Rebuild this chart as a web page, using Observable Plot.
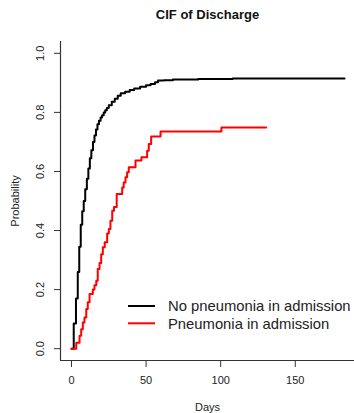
<!DOCTYPE html>
<html>
<head>
<meta charset="utf-8">
<script src="https://cdn.jsdelivr.net/npm/d3@7"></script>
<script src="https://cdn.jsdelivr.net/npm/@observablehq/plot@0.6"></script>
<style>
  html, body { margin: 0; padding: 0; background: white; }
  #chart { position: relative; width: 354px; height: 413px; }
</style>
</head>
<body>
<div id="chart"></div>
<script>
// ---- data ----
const title = "CIF of Discharge";
const xLabel = "Days";
const yLabel = "Probability";
const seriesNames = ["No pneumonia in admission", "Pneumonia in admission"];
const seriesColors = ["#000000", "#ff0000"];

const noPneuDays = [0, 1.5, 3, 4.2, 5.2, 6.2, 7.2, 8.2, 9.2, 10.3, 11.3, 12.3, 13.3, 14.4, 15.4, 16.4, 17.4, 18.4, 19.5, 20.5, 21.6, 22.6, 23.7, 25, 27, 29, 31, 33, 36, 39, 42, 46, 50, 53, 56, 58, 62, 68, 85, 108, 183];
const noPneuProb = [0, 0.085, 0.17, 0.26, 0.345, 0.42, 0.465, 0.5, 0.54, 0.575, 0.61, 0.645, 0.672, 0.7, 0.722, 0.742, 0.76, 0.772, 0.783, 0.79, 0.8, 0.807, 0.815, 0.824, 0.836, 0.846, 0.856, 0.865, 0.87, 0.876, 0.881, 0.887, 0.892, 0.896, 0.902, 0.908, 0.909, 0.911, 0.913, 0.915, 0.915];

const pneuDays = [0, 3.2, 5.4, 6.5, 7.6, 8.7, 9.9, 10.9, 12.1, 14.3, 15.4, 16.6, 17.6, 18.8, 19.9, 21, 22.3, 23.9, 25, 26.1, 27.3, 28.5, 30.3, 34, 35, 36.2, 37.3, 38.4, 42.9, 46.9, 50.7, 51.8, 53.4, 59.7, 100.5, 130.5];
const pneuProb = [0, 0.02, 0.044, 0.066, 0.089, 0.106, 0.134, 0.157, 0.185, 0.2, 0.215, 0.23, 0.27, 0.29, 0.32, 0.343, 0.36, 0.39, 0.405, 0.433, 0.467, 0.48, 0.524, 0.546, 0.563, 0.58, 0.597, 0.614, 0.637, 0.648, 0.67, 0.693, 0.718, 0.735, 0.749, 0.749];

const xTicks = [0, 50, 100, 150];
const yTicks = [0, 0.2, 0.4, 0.6, 0.8, 1.0];

// ---- build table ----
const rows = [
  ...noPneuDays.map((d, i) => ({day: d, prob: noPneuProb[i], group: seriesNames[0]})),
  ...pneuDays.map((d, i) => ({day: d, prob: pneuProb[i], group: seriesNames[1]}))
];

const xDomain = [-7.37, 189.7];
const yDomain = [-0.04, 1.04];
const font = "'Liberation Sans', Arial, Helvetica, sans-serif";
const axisColor = "#333";

const plot = Plot.plot({
  width: 354,
  height: 413,
  marginLeft: 60,
  marginRight: 0,
  marginTop: 41,
  marginBottom: 53,
  x: {domain: xDomain},
  y: {domain: yDomain},
  color: {domain: seriesNames, range: seriesColors},
  style: {fontFamily: font, fontSize: "11px", color: "#222", background: "white"},
  marks: [
    Plot.ruleX([xDomain[0]], {stroke: axisColor, strokeWidth: 1.2}),
    Plot.ruleY([yDomain[0]], {stroke: axisColor, strokeWidth: 1.2}),
    Plot.axisX({ticks: xTicks, tickSize: 7, tickPadding: 9, label: null, stroke: axisColor, fontSize: 11}),
    Plot.axisY({ticks: yTicks, tickSize: 6, tickFormat: () => "", label: null, stroke: axisColor}),
    Plot.text(yTicks, {x: xDomain[0], y: d => d, text: d => d.toFixed(1), rotate: -90, dx: -20,
      textAnchor: "middle", lineAnchor: "middle", fontSize: 11, fill: "#222"}),
    Plot.text([yLabel], {frameAnchor: "left", dx: -45, rotate: -90, textAnchor: "middle", lineAnchor: "middle", fontSize: 11, fill: "#222"}),
    Plot.text([xLabel], {frameAnchor: "bottom", dy: 47, textAnchor: "middle", lineAnchor: "middle", fontSize: 11, fill: "#222"}),
    Plot.text([title], {frameAnchor: "top", dy: -27, textAnchor: "middle", lineAnchor: "middle", fontSize: 13, fontWeight: "bold", fill: "#111"}),
    Plot.line(rows, {x: "day", y: "prob", z: "group", stroke: "group", strokeWidth: 2, curve: "step-after"})
  ]
});

document.getElementById("chart").appendChild(plot);

// ---- legend (inside the plot area, no box) ----
const svg = d3.select(plot);
const leg = svg.append("g").attr("font-family", font).attr("font-size", "14.8px").attr("text-anchor", "start");
seriesNames.forEach((name, i) => {
  const cy = 306 + i * 17.3;
  leg.append("line").attr("x1", 128).attr("x2", 155).attr("y1", cy).attr("y2", cy)
    .attr("stroke", seriesColors[i]).attr("stroke-width", 2);
  leg.append("text").attr("x", 168).attr("y", cy).attr("dy", "0.36em")
    .attr("text-anchor", "start").attr("fill", "#222").text(name);
});
</script>
</body>
</html>
